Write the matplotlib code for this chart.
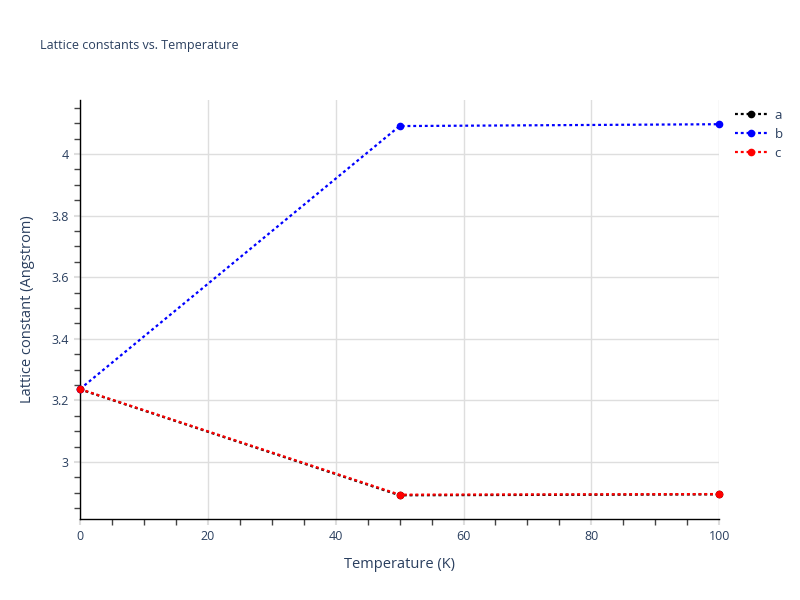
import matplotlib
matplotlib.use("Agg")
import matplotlib.pyplot as plt
from matplotlib.ticker import MultipleLocator

plt.rcParams['font.family'] = ['Open Sans', 'DejaVu Sans']

temperature = [0, 50, 100]
a_vals = [3.236, 2.892, 2.895]
b_vals = [3.237, 4.091, 4.097]
c_vals = [3.237, 2.894, 2.896]
series_names = ['a', 'b', 'c']
series_colors = ['black', 'blue', 'red']

txt = '#2a3f5f'
grid_c = '#dedede'
fig = plt.figure(figsize=(8, 6), dpi=100)
ax = fig.add_axes([0.1, 0.135, 0.799, 0.698])

for name, vals, col in zip(series_names, [a_vals, b_vals, c_vals], series_colors):
    ax.plot(temperature, vals, linestyle=(0, (1.3, 1.3)), linewidth=1.6, color=col,
            marker='o', markersize=4.5, label=name, clip_on=False, zorder=3)

ax.set_xlim(0, 100)
ax.set_ylim(2.815, 4.175)
ax.xaxis.set_major_locator(MultipleLocator(20))
ax.xaxis.set_minor_locator(MultipleLocator(5))
ax.set_yticks([3.0, 3.2, 3.4, 3.6, 3.8, 4.0])
ax.set_yticklabels(['3', '3.2', '3.4', '3.6', '3.8', '4'])
ax.yaxis.set_minor_locator(MultipleLocator(0.05))
ax.grid(True, which='major', color=grid_c, linewidth=1)
ax.set_axisbelow(True)
for s in ['top', 'right']:
    ax.spines[s].set_visible(False)
for s in ['left', 'bottom']:
    ax.spines[s].set_color('black')
    ax.spines[s].set_linewidth(1)
    ax.spines[s].set_zorder(2.5)
ax.tick_params(axis='both', which='major', direction='out', length=4, width=1.5,
               color=grid_c, labelcolor=txt, labelsize=9, pad=4)
ax.tick_params(axis='both', which='minor', direction='out', length=4, width=1,
               color='#444444')
ax.set_xlabel('Temperature (K)', color=txt, fontsize=10.5, labelpad=10)
ax.set_ylabel('Lattice constant (Angstrom)', color=txt, fontsize=10.5, labelpad=12)

fig.text(0.05, 0.925, 'Lattice constants vs. Temperature', color=txt, fontsize=9,
         va='center', ha='left')

leg = fig.legend(loc='upper left', bbox_to_anchor=(735/800, 1 - 109/600), frameon=False,
                 fontsize=9.5, labelcolor=txt, handlelength=2.4, handletextpad=0.6,
                 borderaxespad=0, borderpad=0, labelspacing=0.45)

fig.savefig('out.png', dpi=100)
